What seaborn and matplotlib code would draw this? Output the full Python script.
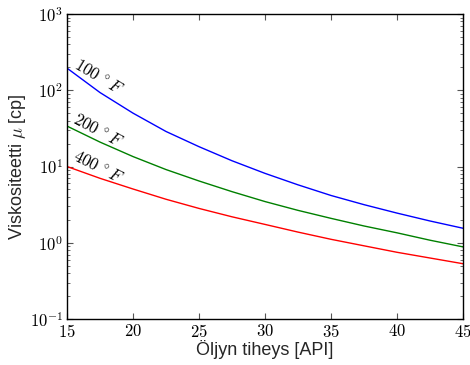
import numpy as np
import pandas as pd
import matplotlib
matplotlib.use("Agg")
import matplotlib.pyplot as plt
from matplotlib.ticker import FuncFormatter, LogLocator, FixedLocator
import seaborn as sns

# Oil gravity (API) and dead-oil viscosity (cp) at three temperatures
api = [15, 17.5, 20, 22.5, 25, 27.5, 30, 32.5, 35, 37.5, 40, 42.5, 45]
visc_100F = [195, 93.3, 50.1, 28.8, 18.2, 11.9, 8.13, 5.75, 4.17, 3.16, 2.45, 1.93, 1.55]
visc_200F = [33.9, 20.9, 13.5, 9.12, 6.46, 4.68, 3.47, 2.66, 2.09, 1.66, 1.35, 1.08, 0.883]
visc_400F = [10.0, 7.0, 5.07, 3.72, 2.82, 2.19, 1.74, 1.38, 1.11, 0.912, 0.750, 0.631, 0.531]
temps = ["100F", "200F", "400F"]
curve_labels = [r"$100\,^\circ F$", r"$200\,^\circ F$", r"$400\,^\circ F$"]
colors = ["#0000ff", "#008000", "#ff0000"]
x_ticks = [15, 20, 25, 30, 35, 40, 45]

df = pd.concat([
    pd.DataFrame({"api": api, "visc": v, "temp": t})
    for v, t in zip([visc_100F, visc_200F, visc_400F], temps)
])

sns.set_style("ticks")
plt.rcParams.update({
    "font.family": ["Liberation Sans", "DejaVu Sans"],
    "mathtext.fontset": "cm",
    "axes.edgecolor": "black",
    "axes.linewidth": 1.0,
    "xtick.direction": "in",
    "ytick.direction": "in",
    "xtick.top": True,
    "ytick.right": True,
    "xtick.color": "#555555",
    "ytick.color": "#555555",
    "xtick.labelcolor": "black",
    "ytick.labelcolor": "black",
})

fig = plt.figure(figsize=(4.7, 3.65), dpi=100)
ax = fig.add_axes([0.1426, 0.126, 0.8425, 0.8356])

sns.lineplot(data=df, x="api", y="visc", hue="temp", palette=colors,
             linewidth=1.0, legend=False, ax=ax)

ax.set_yscale("log")
ax.set_xlim(15, 45)
ax.set_ylim(0.1, 1000)

ax.xaxis.set_major_locator(FixedLocator(x_ticks))
ax.xaxis.set_major_formatter(FuncFormatter(lambda v, p: f"${v:g}$"))
ax.yaxis.set_major_locator(LogLocator(base=10, numticks=10))
ax.yaxis.set_minor_locator(LogLocator(base=10, subs=np.arange(2, 10), numticks=10))
ax.yaxis.set_major_formatter(FuncFormatter(lambda v, p: f"$10^{{{int(round(np.log10(v)))}}}$"))
ax.tick_params(which="major", length=4, width=0.8, labelsize=12, pad=3)
ax.tick_params(which="minor", length=2, width=0.6)

ax.set_xlabel("Öljyn tiheys [API]", fontsize=13, labelpad=0)
ax.set_ylabel(r"Viskositeetti $\mu$ [cp]", fontsize=13, labelpad=1)

# Curve labels placed along each line
label_pos = [(17.4, 149), (17.35, 30), (17.35, 9.9)]
label_rot = [-31, -28, -27]
for (lx, ly), txt, rot in zip(label_pos, curve_labels, label_rot):
    ax.text(lx, ly, txt, fontsize=12, rotation=rot, ha="center", va="center",
            rotation_mode="anchor", color="black")

fig.savefig("out.png", dpi=100)
